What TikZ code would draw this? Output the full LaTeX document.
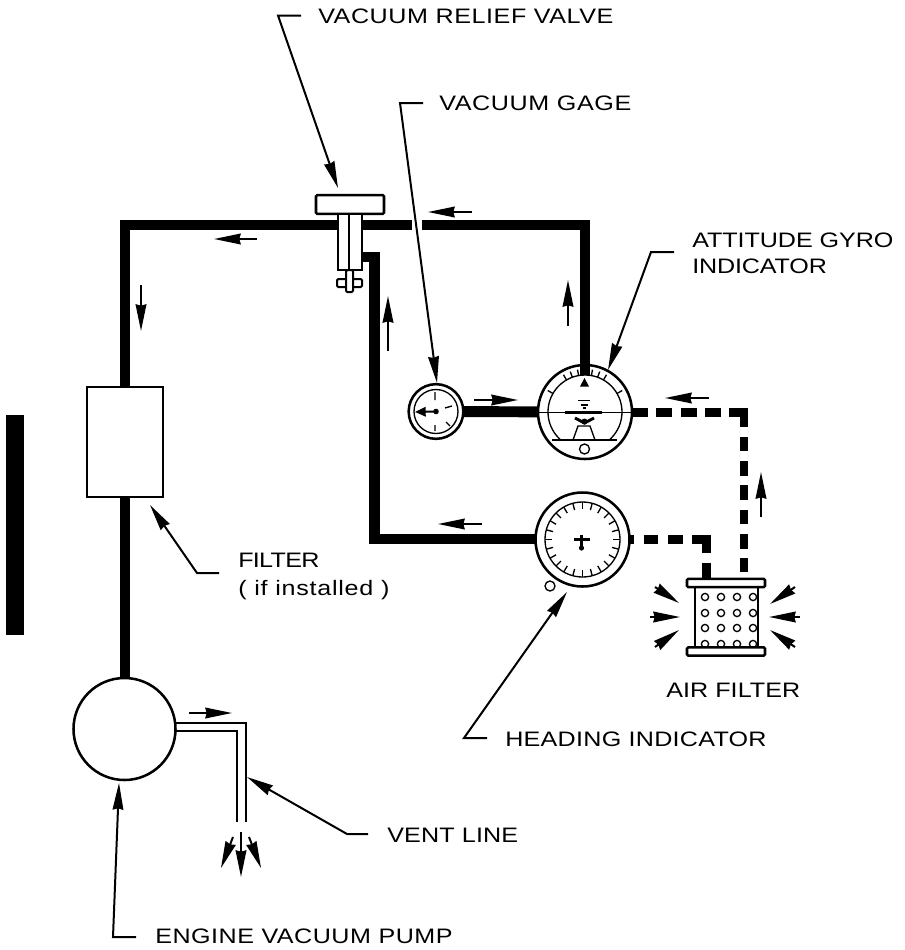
\documentclass[tikz,border=0pt]{standalone}
\usepackage{fontspec}
\setmainfont{Liberation Sans}[FakeStretch=1.2]
\usetikzlibrary{arrows.meta}
\tikzset{
  x=0.75pt,y=-0.75pt,
  pipe/.style={line width=8.2pt,line cap=butt,line join=miter},
  dpipe/.style={line width=6.5pt,line cap=butt,line join=miter},
  outline/.style={draw,fill=white,line width=1.9pt,inner sep=0pt,outer sep=0pt},
  vent/.style={line width=1.7pt},
  fine/.style={line width=1pt},
  leader/.style={line width=1.5pt,-{Stealth[length=20pt,width=8pt,inset=1pt]}},
  flow/.style={line width=1.5pt,-{Stealth[length=20pt,width=8pt,inset=1pt]}},
  lbl/.style={anchor=base west,inner sep=0pt,font=\fontsize{15.7pt}{17pt}\selectfont\addfontfeature{LetterSpace=#1}},
}
\begin{document}
\begin{tikzpicture}
\useasboundingbox (0,0) rectangle (905,950);
% side bar
\fill (6,415) rectangle (24,635);
% named parts
\node[outline,circle,minimum size=76.5pt] (pump) at (124.5,729) {};
\node[outline,rectangle,minimum width=57pt,minimum height=82.5pt] (filter) at (125,442) {};
\coordinate (tl) at (125,225);
\coordinate (tr) at (585,225);
\coordinate (gapl) at (412,225);
\coordinate (gapr) at (422,225);
\coordinate (lowturn) at (374.5,257);
\coordinate (lowbot) at (374.5,539);
\coordinate (att) at (585,412);
\coordinate (head) at (582.5,539.5);
\coordinate (gauge) at (436,411.5);
% pipes
\draw[pipe] (filter.south) -- (filter.south |- pump.north);
\draw[pipe] (filter.north) -- (tl) -- (350,225);
\draw[pipe] (350,225) -- (gapl);
\draw[pipe] (gapr) -- (tr) -- (585,375);
\draw[pipe] (360,257) -- (lowturn) -- (lowbot) -- (540,539);
\draw[pipe] (gauge) -- (att);
\draw[dpipe,dash pattern=on 12pt off 6.2pt] (632,412.5) -- (740,412.5);
\draw[dpipe,dash pattern=on 14.2pt off 7.3pt on 10.9pt off 7.3pt on 10.9pt off 7.3pt on 10.9pt off 7.3pt on 10.9pt off 7.3pt on 10.9pt off 7.3pt on 10.9pt off 7.3pt] (744,408.25) -- (744,572);
\draw[dpipe,dash pattern=on 10.9pt off 7.3pt,dash phase=6.4pt] (628,539.5) -- (702,539.5);
\draw[dpipe,dash pattern=on 13.3pt off 7.5pt on 14pt off 7.5pt] (706.5,535.25) -- (706.5,579);
% vent line
\draw[vent] (pump.center) ++(49,-6) -- (246,723) -- (246,822);
\draw[vent] (pump.center) ++(50,2) -- (237,731) -- (237,822);
% valve
\node[outline,rounded corners=1pt,minimum width=51pt,minimum height=14.2pt] (valvetop) at (350,204.5) {};
\node[outline,minimum width=18pt,minimum height=42pt] (valvebody) at (350,242) {};
\draw[fine] (valvebody.north) ++(-1,0) -- ++(0,56);
\draw[line width=1.5pt,fill=white,rounded corners=1pt] (337,279) rectangle (362,287);
\draw[line width=1.5pt,fill=white,rounded corners=1pt] (346,270) rectangle (353,292);
% gauge
\node[outline,circle,minimum size=41pt] (gg) at (gauge) {};
\draw[fine] (gauge) circle (22);
\fill (gauge) circle (2.8);
\draw[line width=1.5pt,-{Stealth[length=8pt,width=7pt,inset=0pt]}] (gauge) -- (415,412);
\draw[fine] (435,392) -- (435,400) (435,425) -- (435,431) (445,408) -- (452,406) (446,422) -- (450,426);
% attitude
\node[outline,circle,minimum size=70.5pt] (ai) at (att) {};
\begin{scope}
\clip (530,360) rectangle (640,440);
\draw[fine] (att) circle (37);
\end{scope}
\foreach \a in {-60,-30,-20,-10,10,20,30,60}
  \draw[fine] (att) ++(-90+\a:37) -- ++(-90+\a:6);
\draw[pipe] (585,365) -- (585,375);
\fill (584.5,378) -- (589,386.5) -- (580,386.5) -- cycle;
\draw[fine] (538.5,412.5) -- (631.5,412.5);
\draw[line width=2.4pt] (565,412.5) -- (602,412.5);
\draw[fine] (578,400.7) -- (590,400.7) (581,405) -- (588,405) (583,408) -- (586,408);
\draw[line width=2.2pt] (575,418) -- (584.5,423) -- (594,418);
\fill (584.5,421.5) circle (3);
\draw[fine] (573,440) -- (578,426) -- (590,426) -- (595,440);
\draw[fine] (552,440) -- (617,440);
\draw[fine] (584.5,449) circle (5);
% heading
\node[outline,circle,minimum size=70.5pt] (hi) at (head) {};
\draw[fine] (head) circle (37.5);
\foreach \a in {0,15,...,345}
  \draw[fine] (head) ++(\a:37.5) -- ++(\a+180:7);
\draw[line width=2pt] (581.5,535) -- (581.5,548) (574,539.5) -- (589.5,539.5);
\fill (581.5,548) circle (2.6);
\draw[fine] (550,586) circle (5);
% air filter
\begin{scope}
\clip (695,587) rectangle (758,647);
\foreach \x in {705,721,737,753}
  \foreach \y in {597,613,628,644}
    \draw[fine] (\x,\y) circle (3.6);
\end{scope}
\draw[line width=1.9pt] (695,587) -- (695,647) (758,587) -- (758,647);
\node[outline,rounded corners=1pt,minimum width=58.5pt,minimum height=6.3pt] (afa) at (726,583) {};
\node[outline,rounded corners=1pt,minimum width=58.5pt,minimum height=6.3pt] (afb) at (726,651.5) {};
% air filter arrows
\draw[flow] (655,587) -- (679,603);
\draw[flow] (650,617) -- (680,617);
\draw[flow] (655,647) -- (679,630);
\draw[flow] (795,587) -- (770,604);
\draw[flow] (800,617) -- (769,617);
\draw[flow] (795,647) -- (770,630);
% flow arrows
\draw[flow] (257,239) -- (214,239);
\draw[flow] (472,212) -- (428,212);
\draw[flow] (141,285) -- (141,331);
\draw[flow] (568,326) -- (568,280);
\draw[flow] (388,351) -- (388,296);
\draw[flow] (474,400) -- (518,400);
\draw[flow] (709,398) -- (665,398);
\draw[flow] (761,517) -- (761,472);
\draw[flow] (482,524) -- (438,524);
\draw[flow] (189,713) -- (232,713);
\draw[flow] (241,832) -- (241,877);
\draw[flow] (233,837) -- (221,868);
\draw[flow] (249,837) -- (261,868);
% leaders and labels
\node[lbl=2.7] (l1) at (318,23) {VACUUM RELIEF VALVE};
\node[lbl=2.9] (l2) at (439,110) {VACUUM GAGE};
\node[lbl=-0.3] (l3) at (692,247) {ATTITUDE GYRO};
\node[lbl=-0.7] (l3b) at (692,273) {INDICATOR};
\node[lbl=-3.3] (l4) at (238,567) {FILTER};
\node[lbl=3.5] (l4b) at (238,595) {( if installed )};
\node[lbl=0.3] (l5) at (666,697) {AIR FILTER};
\node[lbl=1.3] (l6) at (505,746) {HEADING INDICATOR};
\node[lbl=0.8] (l7) at (387,842) {VENT LINE};
\node[lbl=2.4] (l8) at (155,943) {ENGINE VACUUM PUMP};
\draw[leader] (301,15.5) -- (278,15.5) -- (338,188);
\draw[leader] (423,103) -- (400,103) -- (437,383);
\draw[leader] (674,252) -- (651,252) -- (608,370);
\draw[leader] (219,573) -- (197,573) -- (150,505);
\draw[leader] (487,738) -- (464,738) -- (567,592);
\draw[leader] (368,834) -- (347,834) -- (247,777);
\draw[leader] (136,937) -- (113,937) -- (119,783);
\end{tikzpicture}
\end{document}
